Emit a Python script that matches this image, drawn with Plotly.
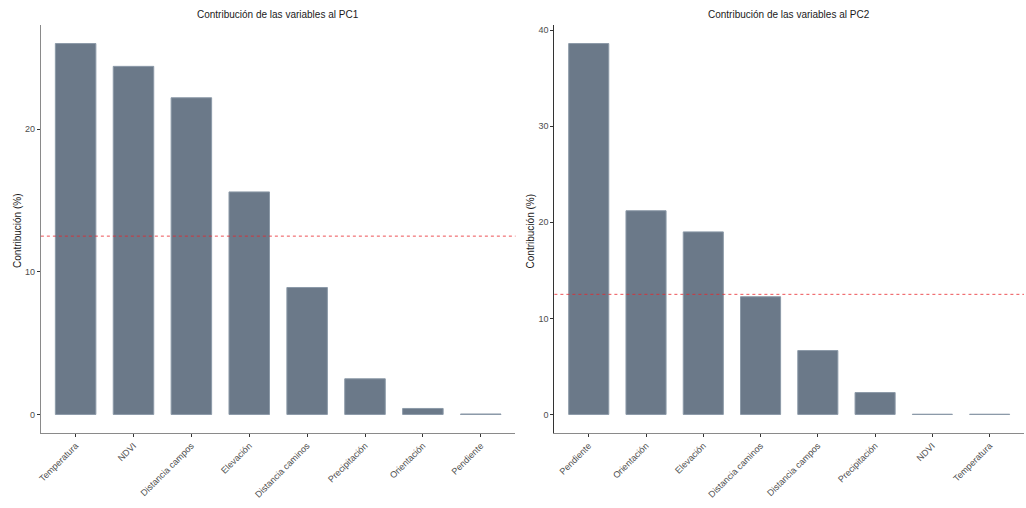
import plotly.graph_objects as go

# Contribution of each variable to the first two principal components
pc1_vars = ["Temperatura", "NDVI", "Distancia campos", "Elevación",
            "Distancia caminos", "Precipitación", "Orientación", "Pendiente"]
pc1_contrib = [26.0, 24.4, 22.2, 15.6, 8.9, 2.5, 0.42, 0.03]

pc2_vars = ["Pendiente", "Orientación", "Elevación", "Distancia caminos",
            "Distancia campos", "Precipitación", "NDVI", "Temperatura"]
pc2_contrib = [38.6, 21.2, 19.0, 12.25, 6.65, 2.28, 0.02, 0.02]

titles = ["Contribución de las variables al PC1", "Contribución de las variables al PC2"]
y_ticks = [[0, 10, 20], [0, 10, 20, 30, 40]]
expected = 100 / len(pc1_vars)  # uniform contribution reference

W, H = 1026, 508
BAR_FILL = "#6B7989"
BAR_EDGE = "#8C9AA8"
FONT = "Liberation Sans, Arial, sans-serif"

fig = go.Figure()

panels = [
    dict(cats=pc1_vars, vals=pc1_contrib, x0=38, x1=514, axcol="#8A8A8A", xa="x", ya="y"),
    dict(cats=pc2_vars, vals=pc2_contrib, x0=553, x1=1024, axcol="#333333", xa="x2", ya="y2"),
]
top_px, bot_px = 25, 433
ydom = [1 - bot_px / H, 1 - top_px / H]

layout = dict(
    width=W, height=H,
    margin=dict(l=0, r=0, t=0, b=0),
    paper_bgcolor="white", plot_bgcolor="white",
    showlegend=False, bargap=0.3,
    font=dict(family=FONT, size=9, color="#4D4D4D"),
    annotations=[], shapes=[],
)

for i, p in enumerate(panels):
    fig.add_trace(go.Bar(
        x=list(range(len(p["cats"]))), y=p["vals"],
        width=0.7,
        marker=dict(color=BAR_FILL, line=dict(color=BAR_EDGE, width=1)),
        xaxis=p["xa"], yaxis=p["ya"], hoverinfo="x+y",
    ))
    vmax = max(p["vals"])
    pad = vmax * 0.05
    sfx = "" if i == 0 else "2"
    layout["xaxis" + sfx] = dict(
        domain=[p["x0"] / W, p["x1"] / W],
        anchor="y" + sfx,
        range=[-0.6, len(p["cats"]) - 0.4],
        tickmode="array", tickvals=list(range(len(p["cats"]))), ticktext=p["cats"],
        tickangle=-45, ticks="outside", ticklen=3, tickcolor="#333333",
        showline=True, linecolor="#8A8A8A", linewidth=1.2,
        showgrid=False, zeroline=False,
        tickfont=dict(size=9, color="#4D4D4D"),
    )
    layout["yaxis" + sfx] = dict(
        domain=ydom,
        anchor="x" + sfx,
        range=[-pad, vmax + pad],
        tickmode="array", tickvals=y_ticks[i],
        ticks="outside", ticklen=3, tickcolor="#333333",
        showline=True, linecolor=p["axcol"], linewidth=1.2,
        showgrid=False, zeroline=False,
        tickfont=dict(size=9, color="#4D4D4D"),
    )
    # reference line at the expected average contribution
    layout["shapes"].append(dict(
        type="line", xref="x" + sfx + " domain", yref="y" + sfx,
        x0=0, x1=1, y0=expected, y1=expected,
        line=dict(color="#E8262B", width=0.8, dash="3px,3px"),
    ))
    # panel title
    layout["annotations"].append(dict(
        text=titles[i], xref="paper", yref="paper",
        x=(p["x0"] + p["x1"]) / 2 / W, y=1 - 15 / H,
        showarrow=False, xanchor="center", yanchor="middle",
        font=dict(family=FONT, size=10, color="#1A1A1A"),
    ))
    # y-axis title
    layout["annotations"].append(dict(
        text="Contribución (%)", xref="paper", yref="paper",
        x=(p["x0"] - 24) / W, y=1 - 231 / H, textangle=-90,
        showarrow=False, xanchor="center", yanchor="middle",
        font=dict(family=FONT, size=10, color="#1A1A1A"),
    ))

fig.update_layout(**layout)
fig.write_html("out.html")
